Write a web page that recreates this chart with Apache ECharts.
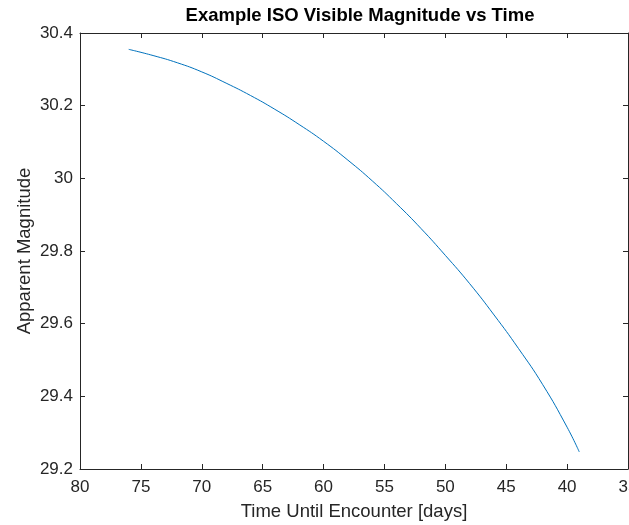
<!DOCTYPE html>
<html>
<head>
<meta charset="utf-8">
<script src="https://cdn.jsdelivr.net/npm/echarts@6/dist/echarts.min.js"></script>
<style>
  html, body { margin: 0; padding: 0; background: #fff; }
  #chart { width: 629px; height: 525px; }
</style>
</head>
<body>
<div id="chart"></div>
<script>
// days until encounter and apparent magnitude
const days = [76, 74, 72, 70, 68, 66, 64, 62, 60, 58, 56, 54, 52, 50, 48, 46, 44, 42, 40, 39];
const magnitude = [30.355, 30.338, 30.318, 30.293, 30.262, 30.228, 30.190, 30.148, 30.102, 30.050,
    29.993, 29.930, 29.862, 29.788, 29.710, 29.624, 29.532, 29.432, 29.315, 29.247];

const xTicks = { min: 35, max: 80, interval: 5 };
const yTicks = { min: 29.2, max: 30.4, interval: 0.2 };

let myChart = echarts.init(document.getElementById('chart'));

const font = 'Liberation Sans, Arial, sans-serif';
const axisCol = '#262626';

let points = [];
for (let i = 0; i < days.length; i++) {
    points.push([days[i], magnitude[i]]);
}

function plainAxis(extra) {
    return Object.assign({
        type: 'value',
        axisLine: { show: true, onZero: false, lineStyle: { color: axisCol, width: 1 } },
        axisTick: { show: true, inside: true, length: 5, lineStyle: { color: axisCol } },
        splitLine: { show: false },
        axisLabel: { show: false }
    }, extra);
}

let option = {
    animation: false,
    backgroundColor: '#fff',
    title: {
        text: 'Example ISO Visible Magnitude vs Time',
        left: 355,
        top: 1,
        textAlign: 'center',
        textStyle: { color: '#000', fontFamily: font, fontWeight: 'bold', fontSize: 18.5 }
    },
    grid: { left: 80, right: 1, top: 33, bottom: 56, outerBoundsMode: 'none', containLabel: false },
    xAxis: [
        plainAxis({
            min: xTicks.min, max: xTicks.max, interval: xTicks.interval,
            inverse: true,
            position: 'bottom',
            name: 'Time Until Encounter [days]',
            nameLocation: 'middle',
            nameGap: 33,
            nameMoveOverlap: false,
            nameTextStyle: { color: axisCol, fontFamily: font, fontSize: 18.5 },
            axisLabel: { show: true, color: axisCol, fontFamily: font, fontSize: 17, margin: 10, hideOverlap: false }
        }),
        plainAxis({
            min: xTicks.min, max: xTicks.max, interval: xTicks.interval,
            inverse: true,
            position: 'top'
        })
    ],
    yAxis: [
        plainAxis({
            min: yTicks.min, max: yTicks.max, interval: yTicks.interval,
            position: 'left',
            name: 'Apparent Magnitude',
            nameLocation: 'middle',
            nameGap: 46,
            nameMoveOverlap: false,
            nameTextStyle: { color: axisCol, fontFamily: font, fontSize: 18.5 },
            axisLabel: { show: true, color: axisCol, fontFamily: font, fontSize: 17, margin: 7 }
        }),
        plainAxis({
            min: yTicks.min, max: yTicks.max, interval: yTicks.interval,
            position: 'right'
        })
    ],
    series: [{
        type: 'line',
        data: points,
        smooth: true,
        showSymbol: false,
        lineStyle: { color: '#0072BD', width: 1 }
    }]
};

option && myChart.setOption(option);
</script>
</body>
</html>
